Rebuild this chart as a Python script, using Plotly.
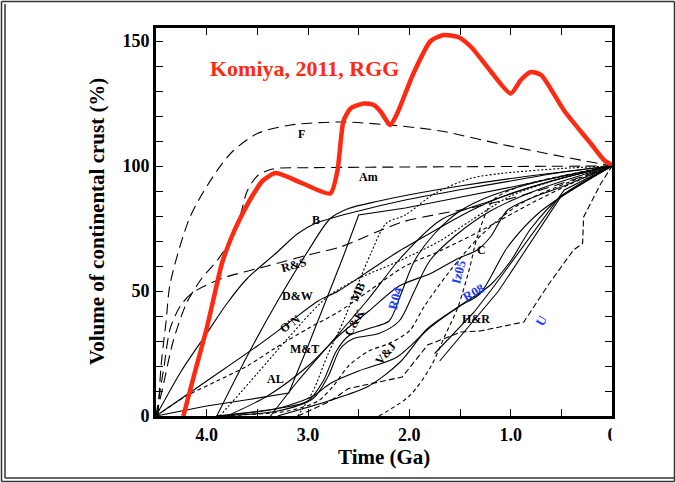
import plotly.graph_objects as go

# ---------------- data (time in Ga, volume in %) ----------------
red_t = [4.23, 4.12, 4.0, 3.92, 3.85, 3.76, 3.67, 3.55, 3.45, 3.32, 3.05, 2.78, 2.71, 2.65, 2.58, 2.45, 2.35, 2.28, 2.19,
         2.12, 1.96, 1.79, 1.66, 1.52, 1.39, 1.2, 1.0, 0.9, 0.8, 0.7, 0.47, 0.21, 0.08, 0.0]
red_v = [0, 17, 35, 49, 61, 71, 79, 88, 94, 97.2, 93, 89, 98, 118, 123, 125, 124.4, 121.6, 116.4,
         121, 137, 150, 152.4, 151.6, 147.6, 138, 129, 134.4, 137.6, 136.4, 122, 109, 102.4, 100.4]

F_t = [4.48, 4.45, 4.4, 4.36, 4.16, 3.9, 3.74, 3.5, 3.17, 2.68, 2.19, 1.69, 1.13, 0.47, 0.0]
F_v = [0, 20, 38, 53, 80, 98, 106, 113, 116.4, 117.6, 116.4, 114, 109, 103.6, 100]

Am_t = [4.5, 4.43, 4.33, 4.2, 4.05, 3.9, 3.77, 3.67, 3.6, 3.5, 3.35, 3.0, 2.0, 0.0]
Am_v = [0, 12, 30, 45, 55, 62, 70, 80, 90, 96, 98.8, 99.3, 99.6, 100]

RS_t = [4.5, 4.46, 4.42, 4.36, 4.26, 4.15, 3.85, 3.4, 3.0, 2.68, 2.33, 2.07, 1.76, 1.42, 1.0, 0.5, 0.0]
RS_v = [0, 10, 20, 35, 44, 49, 55, 60, 64.4, 67.6, 73.5, 77.6, 80.4, 83, 87, 93, 100]

B_t = [4.5, 4.25, 4.0, 3.8, 3.6, 3.32, 3.1, 2.93, 2.5, 2.04, 1.5, 1.0, 0.5, 0.0]
B_v = [0, 18, 33, 45, 55, 65, 73, 77, 82, 86.4, 90.5, 94, 97.5, 100]

DW_t = [3.9, 3.6, 3.3, 3.0, 2.78, 2.6, 2.3, 2.0, 1.5, 1.0, 0.0]
DW_v = [0, 24, 46, 66, 79, 83, 86, 88.5, 92, 95, 100]

ON_t = [4.5, 4.0, 3.5, 3.2, 2.9, 2.7, 2.4, 2.1, 1.8, 1.4, 1.0, 0.5, 0.0]
ON_v = [0, 14, 28, 37, 46, 50, 58, 66, 73, 82, 89, 95, 100]

AL_t = [4.5, 4.0, 3.6, 3.19, 3.0, 2.81, 2.65, 2.5, 2.04, 1.5, 1.0, 0.0]
AL_v = [0, 4, 6.5, 9.2, 28, 47.6, 64, 80.4, 83.2, 87.5, 91.5, 100]

MT_t = [4.5, 4.2, 3.9, 3.6, 3.33, 3.0, 2.7, 2.4, 2.04, 1.7, 1.3, 0.8, 0.4, 0.0]
MT_v = [0, 8, 14, 20, 27, 35, 41.6, 50, 60, 66, 74, 85, 93, 100]

MB_t = [3.1, 2.95, 2.8, 2.65, 2.53, 2.38, 2.23, 2.04, 1.75, 1.4, 1.1, 0.5, 0.0]
MB_v = [0, 10, 25, 38, 50.4, 65, 77, 80.4, 89, 95, 97, 99, 100]

D2_t = [3.87, 3.5, 3.2, 2.81, 2.5, 2.1, 1.7, 1.4, 1.0, 0.5, 0.0]
D2_v = [0, 17, 31, 47.6, 55, 62, 70, 78, 88, 95, 100]

CK_t = [3.37, 3.1, 2.78, 2.4, 2.09, 1.69, 1.2, 0.6, 0.0]
CK_v = [0, 14, 29, 47, 63, 78.4, 86, 94, 100]

R04_t = [3.9, 3.3, 3.0, 2.85, 2.72, 2.6, 2.4, 2.2, 2.09, 1.95, 1.75, 1.5, 1.2, 0.7, 0.0]
R04_v = [0, 3, 6, 14, 26, 32, 35, 38, 48, 62, 73, 82, 88, 94, 100]

VJ_t = [3.9, 3.3, 2.95, 2.78, 2.5, 2.12, 1.79, 1.5, 1.3, 1.03, 0.7, 0.0]
VJ_v = [0, 3, 8, 13, 18, 23.6, 35.6, 44, 49, 67.6, 82, 100]

S1_t = [3.9, 3.3, 2.95, 2.8, 2.68, 2.55, 2.3, 2.1, 1.95, 1.8, 1.55, 1.2, 0.7, 0.0]
S1_v = [0, 2, 7, 16, 27, 31, 33, 38, 50, 62, 72, 82, 91, 100]

S2_t = [3.9, 3.2, 2.9, 2.75, 2.6, 2.4, 2.2, 2.0, 1.85, 1.6, 1.3, 0.9, 0.0]
S2_v = [0, 2, 6, 12, 20, 26, 29, 34, 44, 58, 72, 85, 100]

Iz_t = [2.3, 2.0, 1.79, 1.65, 1.52, 1.4, 1.33, 1.17, 0.9, 0.5, 0.0]
Iz_v = [0, 8, 19.6, 32, 43.6, 60, 71.6, 86.4, 92, 96, 100]

C_t = [3.8, 3.4, 3.0, 2.7, 2.4, 2.1, 1.79, 1.52, 1.33, 1.2, 1.03, 0.77, 0.5, 0.0]
C_v = [0, 8, 20, 32, 42, 52, 57, 63, 66.4, 71.6, 82.4, 87.6, 91.6, 100]

R08_t = [3.3, 2.8, 2.4, 2.09, 1.82, 1.52, 1.2, 1.0, 0.8, 0.5, 0.0]
R08_v = [0, 6, 12, 21.6, 35, 43.6, 52.4, 62, 75, 88, 100]

HR_t = [1.75, 1.36, 1.17, 0.47, 0.2, 0.0]
HR_v = [25, 41.6, 51.6, 90.4, 96, 100]

HR2_t = [1.7, 1.3, 1.12, 0.5, 0.2, 0.0]
HR2_v = [22, 41, 50, 88, 95.5, 100]

U_t = [3.1, 2.78, 2.6, 2.07, 1.82, 1.49, 1.3, 0.9, 0.87, 0.63, 0.38, 0.29, 0.28, 0.11, 0.0]
U_v = [0, 6, 11, 15.6, 28.4, 33.6, 34, 37.2, 37.6, 52.4, 66.4, 69, 79.6, 93, 100]

labels = ["F", "Am", "B", "R&S", "D&W", "O'N", "M&T", "AL", "MB", "C&K", "V&J", "C", "H&R",
          "R04", "Iz05", "R08", "U"]
label_t = [3.06, 2.4, 2.92, 3.14, 3.1, 3.18, 3.03, 3.32, 2.51, 2.54, 2.24, 1.29, 1.34,
           2.14, 1.52, 1.37, 0.7]
label_v = [113, 95.6, 78.5, 60.4, 48, 37, 27, 15, 49.6, 37.6, 25, 66.4, 38.8,
           47, 57.6, 49.6, 38.4]
label_angle = [0, 0, 0, -15, 0, -35, 0, 0, -65, -60, -50, 0, 0,
               -75, -75, -30, -60]
label_blue = [False] * 13 + [True] * 4

# ---------------- figure ----------------
W, H = 676, 483
L, R, T, Bm = 156, 64, 28, 67
PW, PH = W - L - R, H - T - Bm

fig = go.Figure()

def add(t, v, dash="solid", width=1.1, color="black", shape="spline", smoothing=0.8):
    fig.add_trace(go.Scatter(x=t, y=v, mode="lines",
                             line=dict(color=color, width=width, dash=dash, shape=shape, smoothing=smoothing),
                             hoverinfo="skip", showlegend=False))

LONG = "11px,6px"
SHORT = "4px,3px"
DOT = "2px,2px"

add(F_t, F_v, LONG)
add(Am_t, Am_v, LONG)
add(RS_t, RS_v, LONG)
add(B_t, B_v)
add(DW_t, DW_v)
add(ON_t, ON_v)
add(AL_t, AL_v, shape="linear")
add(MT_t, MT_v, SHORT)
add(MB_t, MB_v, DOT)
add(D2_t, D2_v, DOT)
add(CK_t, CK_v)
add(R04_t, R04_v)
add(VJ_t, VJ_v)
add(S1_t, S1_v)
add(S2_t, S2_v, SHORT)
add(Iz_t, Iz_v, SHORT)
add(C_t, C_v)
add(R08_t, R08_v)
add(HR_t, HR_v, shape="linear")
add(HR2_t, HR2_v, shape="linear")
add(U_t, U_v, "6px,3px", shape="linear")
add(red_t, red_v, width=4.5, color="#ff2a12", smoothing=0.6)

serif = "Liberation Serif, Times New Roman, serif"

for txt, t, v, ang, blue in zip(labels, label_t, label_v, label_angle, label_blue):
    fig.add_annotation(x=t, y=v, text="<b>%s</b>" % txt, showarrow=False, textangle=ang,
                       font=dict(family=serif, size=13 if blue else 12, color="#1a3cff" if blue else "black"))

fig.add_annotation(x=3.03, y=139, text="<b>Komiya, 2011, RGG</b>", showarrow=False,
                   font=dict(family=serif, size=22, color="#ff2a12"))

axis_common = dict(showline=True, linecolor="black", linewidth=3, mirror="allticks",
                   ticks="inside", ticklen=7, tickwidth=1.2, tickcolor="black",
                   showgrid=False, zeroline=False,
                   tickfont=dict(family=serif, size=18, color="black"))

fig.update_xaxes(range=[4.5, 0], tickvals=[4, 3, 2, 1, 0],
                 ticktext=["<b>4.0</b>", "<b>3.0</b>", "<b>2.0</b>", "<b>1.0</b>", "<b>0</b>"],
                 minor=dict(tick0=0, dtick=0.5, ticks="inside", ticklen=7, tickwidth=1.2, tickcolor="black"),
                 **axis_common)
fig.update_yaxes(range=[0, 155.2], tickvals=[0, 50, 100, 150],
                 ticktext=["<b>0</b>", "<b>50</b>", "<b>100</b>", "<b>150</b>"],
                 minor=dict(tick0=0, dtick=10, ticks="inside", ticklen=7, tickwidth=1.2, tickcolor="black"),
                 **axis_common)

# axis titles
fig.add_annotation(xref="paper", yref="paper", x=0.5, y=0, yshift=-27, yanchor="top",
                   text="<b>Time (Ga)</b>", showarrow=False,
                   font=dict(family=serif, size=21, color="black"))
fig.add_annotation(xref="paper", yref="paper", x=0, y=0.5, xshift=-45, xanchor="right",
                   text="<b>Volume of continental crust (%)</b>", showarrow=False, textangle=-90,
                   font=dict(family=serif, size=21, color="black"))

def px(xp):
    return (xp - L) / PW

def py(yp):
    return (H - Bm - yp) / PH

# mask that clips the "0" tick label on the right
fig.add_shape(type="rect", xref="paper", yref="paper", x0=px(611.8), x1=px(668), y0=py(447), y1=py(419.5),
              line=dict(width=0), fillcolor="white", layer="above")

# outer frame (double line on left/bottom)
frame = dict(color="#333333", width=1.5)
fig.add_shape(type="line", xref="paper", yref="paper", x0=px(1.5), x1=px(674.5), y0=py(1.5), y1=py(1.5), line=frame)
fig.add_shape(type="line", xref="paper", yref="paper", x0=px(674.5), x1=px(674.5), y0=py(1.5), y1=py(481.5), line=frame)
fig.add_shape(type="line", xref="paper", yref="paper", x0=px(1.5), x1=px(674.5), y0=py(481.5), y1=py(481.5), line=frame)
fig.add_shape(type="line", xref="paper", yref="paper", x0=px(1.5), x1=px(1.5), y0=py(1.5), y1=py(481.5), line=frame)
fig.add_shape(type="line", xref="paper", yref="paper", x0=px(5), x1=px(674.5), y0=py(478), y1=py(478), line=frame)
fig.add_shape(type="line", xref="paper", yref="paper", x0=px(5), x1=px(5), y0=py(4), y1=py(478), line=frame)

fig.update_layout(width=W, height=H, margin=dict(l=L, r=R, t=T, b=Bm),
                  paper_bgcolor="white", plot_bgcolor="white", showlegend=False)

fig.write_html("out.html", config={"displayModeBar": False},
               post_script="document.body.style.margin='0';document.body.style.overflow='hidden';")
